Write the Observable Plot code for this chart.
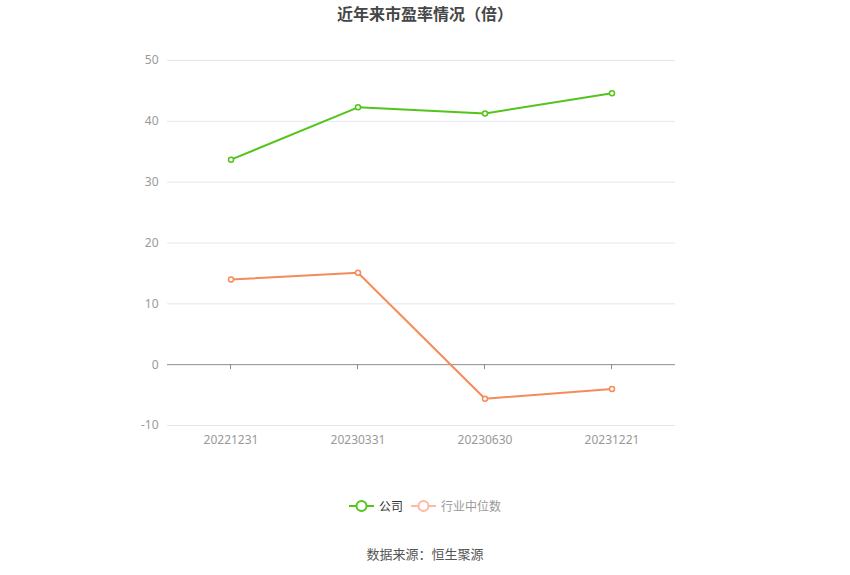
<!DOCTYPE html>
<html><head><meta charset="utf-8">
<script src="https://cdn.jsdelivr.net/npm/d3@7"></script>
<script src="https://cdn.jsdelivr.net/npm/@observablehq/plot@0.6"></script>
<style>
body{margin:0;background:#fff;font-family:"Noto Sans CJK SC","Noto Sans",sans-serif;}
#wrap{width:850px;height:575px;position:relative;}
#title{position:absolute;top:0;left:0;width:850px;text-align:center;font-size:16px;font-weight:bold;color:#464646;line-height:26px;}
#chart{position:absolute;top:28px;left:0;}
#legend{position:absolute;top:497px;left:0;width:850px;text-align:center;font-size:12px;}
#caption{position:absolute;top:544px;left:0;width:850px;text-align:center;font-size:13px;color:#555;}
.li{display:inline-flex;align-items:center;margin:0 4px;}
</style></head>
<body><div id="wrap">
<div id="title">近年来市盈率情况（倍）</div>
<div id="chart"></div>
<div id="legend"></div>
<div id="caption">数据来源：恒生聚源</div>
</div>
<script>
const categories = ["20221231","20230331","20230630","20231221"];
const companyPE = [33.7, 42.3, 41.3, 44.6];
const industryPE = [14.0, 15.1, -5.6, -4.0];
const seriesNames = ["公司","行业中位数"];
const yTicks = [-10,0,10,20,30,40,50];

const green = "#52c41a", orange = "#f78a5a";
const data = [];
categories.forEach((c,i)=>{
  data.push({cat:c, v:companyPE[i], s:seriesNames[0]});
  data.push({cat:c, v:industryPE[i], s:seriesNames[1]});
});

const chart = Plot.plot({
  width: 850, height: 440,
  marginLeft: 167, marginRight: 175, marginTop: 32, marginBottom: 43,
  style: {fontFamily: "'Noto Sans','Noto Sans CJK SC',sans-serif", fontSize: "12px", color: "#999", background: "#fff"},
  x: {type: "band", domain: categories, padding: 0, label: null},
  y: {domain: [-10, 50], label: null},
  color: {domain: seriesNames, range: [green, orange]},
  marks: [
    Plot.gridY(yTicks.filter(t=>t!==0), {stroke: "#e3e6f0", strokeOpacity: 1}),
    Plot.ruleY([0], {stroke: "#8c8c96", strokeWidth: 1}),
    Plot.axisY({ticks: yTicks, tickFormat: d=>String(d), tickSize: 0, tickPadding: 9, fill: "#999", fontSize: 12}),
    Plot.axisX({tickSize: 0, tickPadding: 10, fill: "#999", fontSize: 12}),
    Plot.line(data, {x: "cat", y: "v", stroke: "s", strokeWidth: 2}),
    Plot.dot(data, {x: "cat", y: "v", stroke: "s", fill: "#fff", r: 2.5, strokeWidth: 1.5})
  ]
});
document.getElementById("chart").appendChild(chart);

// zero-line tick marks under categories
const svg = d3.select(chart);
const xs = chart.scale("x"), ys = chart.scale("y");
categories.forEach(c=>{
  const x = xs.apply(c) + xs.bandwidth/2;
  const y = ys.apply(0);
  svg.append("line").attr("x1",x).attr("x2",x).attr("y1",y).attr("y2",y+5).attr("stroke","#8c8c96");
});

// legend
const leg = document.getElementById("legend");
const items = [{n:seriesNames[0], c:green, t:"#333"},{n:seriesNames[1], c:"#ffb9a0", t:"#999"}];
items.forEach(it=>{
  const span = document.createElement("span");
  span.className = "li";
  span.innerHTML = `<svg width="25" height="14"><line x1="0" x2="25" y1="7" y2="7" stroke="${it.c}" stroke-width="2"/><circle cx="12.5" cy="7" r="5" fill="#fff" stroke="${it.c}" stroke-width="2"/></svg><span style="margin-left:5px;color:${it.t}">${it.n}</span>`;
  leg.appendChild(span);
});
</script>
</body></html>
